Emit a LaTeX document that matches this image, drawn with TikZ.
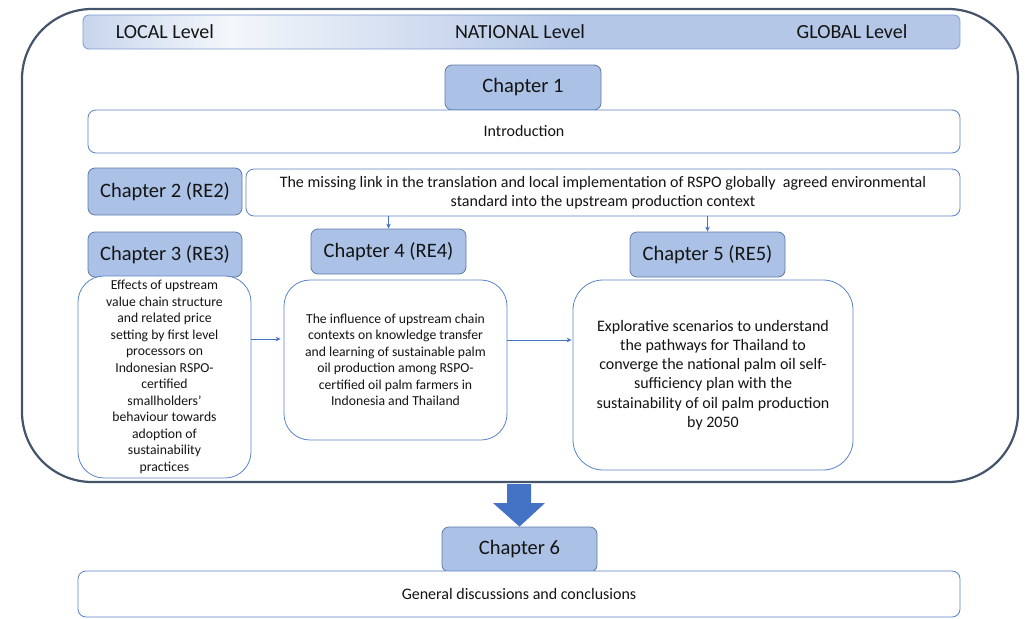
\documentclass[tikz,border=0pt]{standalone}
\usepackage{fontspec}
\setmainfont{Carlito}
\usetikzlibrary{arrows.meta,calc}
\definecolor{frame}{HTML}{44546A}
\definecolor{chapfill}{HTML}{ABC2E6}
\definecolor{chapline}{HTML}{5F7AA8}
\definecolor{boxline}{HTML}{5B82C6}
\definecolor{arrowblue}{HTML}{4472C4}
\definecolor{txt}{HTML}{141414}
\definecolor{barblue}{HTML}{B4C7E7}
\definecolor{barlight}{HTML}{F4F7FB}
\tikzset{
  chap/.style={draw=chapline, line width=0.8pt, fill=chapfill, rounded corners=7pt,
    text=txt, font=\fontsize{20.5}{24}\selectfont, inner sep=0pt},
  textbox/.style={draw=boxline, line width=0.8pt, fill=white, text=txt,
    align=center, inner sep=0pt},
  lvl/.style={text=txt, font=\fontsize{20}{24}\selectfont, inner sep=0pt},
  thin arrow/.style={draw=arrowblue, line width=0.7pt,
    -{Stealth[length=5pt,width=4.5pt]}},
}
\begin{document}
\begin{tikzpicture}[x=1pt,y=-1pt]
\useasboundingbox (0,0) rectangle (1032,618);

% outer frame enclosing chapters 1 to 5
\draw[frame, line width=2.2pt, rounded corners=70pt] (22,9) rectangle (1018,482);

% level bar with gradient
\begin{scope}
  \clip[rounded corners=6pt] (83,15) rectangle (960,49);
  \fill[barblue] (83,15) rectangle (960,49);
  \shade[left color=barblue!70!barlight, right color=barlight] (83,15) rectangle (230,49);
  \shade[left color=barlight, right color=barblue] (229,15) rectangle (570,49);
\end{scope}
\draw[boxline!80, line width=0.8pt, rounded corners=6pt] (83,15) rectangle (960,49);
\node[lvl] (local) at (165,32) {LOCAL Level};
\node[lvl] (national) at (520,32) {NATIONAL Level};
\node[lvl] (global) at (852,32) {GLOBAL Level};

% chapter 1
\node[chap, minimum width=156pt, minimum height=45pt] (c1) at (523,87.5) {Chapter 1};
\node[textbox, rounded corners=8pt, minimum width=872pt, minimum height=43pt,
  font=\fontsize{16}{19}\selectfont] (intro) at (524,131.5) {Introduction};

% chapter 2
\node[chap, minimum width=154pt, minimum height=47pt] (c2) at (165,191.5) {Chapter 2 (RE2)};
\node[textbox, rounded corners=8pt, minimum width=714pt, minimum height=47pt,
  font=\fontsize{16}{19}\selectfont] (ml) at (603,192.5)
  {The missing link in the translation and local implementation of RSPO globally\ \ agreed environmental\\
   standard into the upstream production context};

% chapters 3 to 5 headers
\node[chap, minimum width=154pt, minimum height=45pt] (c3) at (165,254.5) {Chapter 3 (RE3)};
\node[chap, minimum width=155pt, minimum height=45pt] (c4) at (388.5,251.5) {Chapter 4 (RE4)};
\node[chap, minimum width=155pt, minimum height=45pt] (c5) at (707.5,254.5) {Chapter 5 (RE5)};

% chapters 3 to 5 descriptions
\node[textbox, rounded corners=26pt, minimum width=173pt, minimum height=202pt,
  font=\fontsize{13.7}{16.5}\selectfont] (t3) at (164.5,377)
  {Effects of upstream\\ value chain structure\\ and related price\\ setting by first level\\
   processors on\\ Indonesian RSPO-\\ certified\\ smallholders’\\ behaviour towards\\
   adoption of\\ sustainability\\ practices};
\node[textbox, rounded corners=26pt, minimum width=223pt, minimum height=160pt,
  font=\fontsize{13.7}{16.5}\selectfont] (t4) at (395.5,360)
  {The influence of upstream chain\\ contexts on knowledge transfer\\ and learning of sustainable palm\\
   oil production among RSPO-\\ certified oil palm farmers in\\ Indonesia and Thailand};
\node[textbox, rounded corners=30pt, minimum width=280pt, minimum height=190pt,
  font=\fontsize{16}{19.2}\selectfont] (t5) at (713,375)
  {Explorative scenarios to understand\\ the pathways for Thailand to\\ converge the national palm oil self-\\
   sufficiency plan with the\\ sustainability of oil palm production\\ by 2050};

% connectors
\draw[thin arrow] (c4.north |- ml.south) -- (c4.north);
\draw[thin arrow] (c5.north |- ml.south) -- (c5.north);
\draw[thin arrow] (t3.east |- 0,339) -- ([xshift=-3pt]t4.west |- 0,339);
\draw[thin arrow] (t4.east |- 0,340) -- ([xshift=-1pt]t5.west |- 0,340);

% chapter 6
\node[chap, minimum width=155pt, minimum height=45pt] (c6) at (519.5,549.5) {Chapter 6};
\node[textbox, rounded corners=8pt, minimum width=882pt, minimum height=46pt,
  font=\fontsize{16}{19}\selectfont] (gen) at (519,594) {General discussions and conclusions};

% block arrow from the frame down to chapter 6
\fill[arrowblue] (507,484) -- (531,484) -- (531,503) -- (545,503)
  -- (c6.north) -- (493,503) -- (507,503) -- cycle;
\end{tikzpicture}
\end{document}
